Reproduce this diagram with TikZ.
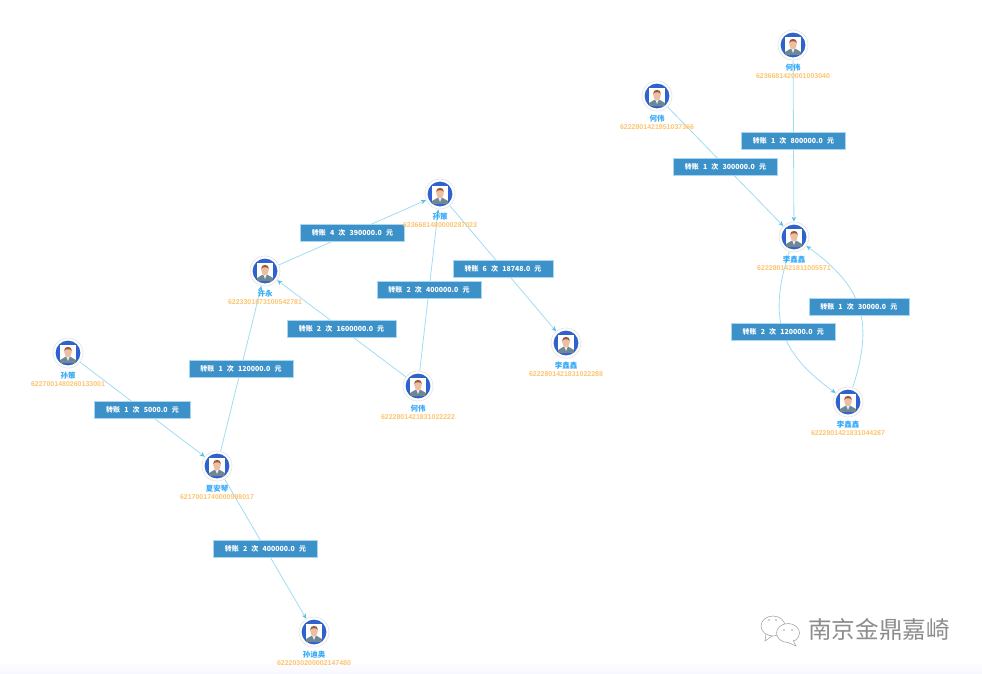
\documentclass[tikz,border=0pt]{standalone}
\usepackage{fontspec}
\usetikzlibrary{arrows.meta,backgrounds}
\newfontfamily\cjk[WordSpace=2.6]{Noto Sans CJK SC}
\setmainfont{Liberation Sans}
\definecolor{feeblue}{HTML}{3C91C9}
\definecolor{feeline}{HTML}{A9D6F0}
\definecolor{edgeblue}{HTML}{A0DDF3}
\definecolor{tipblue}{HTML}{55C0E8}
\definecolor{nameblue}{HTML}{35A9F7}
\definecolor{numorange}{HTML}{FCC46F}
\definecolor{ringblue}{HTML}{2F62CC}
\definecolor{suit}{HTML}{6F8794}
\definecolor{skin}{HTML}{EDBFA0}
\definecolor{hair}{HTML}{9A5A3C}
\tikzset{
    avatar/.style={circle, minimum size=30pt, inner sep=0pt, draw=black!10, line width=.7pt, fill=white,
        path picture={
            \begin{scope}[shift={(path picture bounding box.center)}]
                \fill[ringblue] (0,0) circle [radius=12.4];
                \fill[white] (-8,-8.5) rectangle (8,9);
                \fill[suit] (-8,10) -- (-8,7) -- (-2,3.5) -- (2,3.5) -- (8,7) -- (8,10) -- cycle;
                \fill[white!85!suit] (-1.8,3.5) -- (1.8,3.5) -- (0,8) -- cycle;
                \fill[skin] (-1.5,1) rectangle (1.5,4);
                \fill[skin] (0,-1) ellipse [x radius=3.8, y radius=5.2];
                \fill[hair] (-3.9,-2) .. controls (-4.4,-7.5) and (4.4,-7.5) .. (3.9,-2) .. controls (2.8,-4.4) and (-2.8,-4.4) .. (-3.9,-2);
            \end{scope}
        }},
    nm/.style={font=\cjk\bfseries\fontsize{7.5}{8}\selectfont, text=nameblue, inner sep=0pt, yshift=-3.5pt},
    num/.style={font=\bfseries\fontsize{7}{8}\selectfont, text=numorange, inner sep=0pt, yshift=-13.5pt},
    fee/.style={font=\cjk\bfseries\fontsize{7}{8}\selectfont, text=white, fill=feeblue, draw=feeline, line width=.5pt,
        inner xsep=11.5pt, inner ysep=0pt, minimum height=17pt},
    flow/.style={draw=edgeblue, line width=.8pt, -{Stealth[length=5pt,width=4.5pt,color=tipblue]}}
}
\begin{document}
\begin{tikzpicture}[x=1pt, y=-1pt]
    \useasboundingbox (0,0) rectangle (982,673);
    % left group
    \node[avatar, label={[nm]below:孙策}, label={[num]below:6227001480260133001}] (sunA) at (68,353) {};
    \node[avatar, label={[nm]below:夏安琴}, label={[num]below:6217001740000998017}] (xia) at (217,466) {};
    \node[avatar, label={[nm]below:许永}, label={[num]below:6223301873100542781}] (xu) at (265,271) {};
    \node[avatar, label={[nm]below:孙策}, label={[num]below:6236681480000287023}] (sunB) at (440,194) {};
    \node[avatar, label={[nm]below:何伟}, label={[num]below:6222801421831022222}] (heA) at (418,386) {};
    \node[avatar, label={[nm]below:李鑫鑫}, label={[num]below:6222801421831022288}] (liA) at (566,343) {};
    \node[avatar, label={[nm]below:孙迪奥}, label={[num]below:6222030200002147480}] (sunC) at (314,632) {};
    % right group
    \node[avatar, label={[nm]below:何伟}, label={[num]below:6236681420001003040}] (heB) at (793,45) {};
    \node[avatar, label={[nm]below:何伟}, label={[num]below:6222801421951037366}] (heC) at (657,96) {};
    \node[avatar, label={[nm]below:李鑫鑫}, label={[num]below:6222801421811005571}] (liB) at (794,237) {};
    \node[avatar, label={[nm]below:李鑫鑫}, label={[num]below:6222801421831044287}] (liC) at (848,402) {};
    \begin{scope}[on background layer]
        \shade[top color=white, bottom color=black!6!blue!3!white, draw=none] (0,661) rectangle (982,673);
        \draw[flow] (sunA) -- node[fee] {转账 1 次 5000.0 元} (xia);
        \draw[flow] (xia) -- node[fee] {转账 1 次 120000.0 元} (xu);
        \draw[flow] (xia) -- node[fee] {转账 2 次 400000.0 元} (sunC);
        \draw[flow] (xu) -- node[fee] {转账 4 次 390000.0 元} (sunB);
        \draw[flow] (heA) -- node[fee] {转账 2 次 1600000.0 元} (xu);
        \draw[flow] (heA) -- node[fee] {转账 2 次 400000.0 元} (sunB);
        \draw[flow] (sunB) -- node[fee] {转账 6 次 18748.0 元} (liA);
        \draw[flow] (heB) -- node[fee] {转账 1 次 800000.0 元} (liB);
        \draw[flow] (heC) -- node[fee] {转账 1 次 300000.0 元} (liB);
        \draw[flow] (liB) to[bend right=36, looseness=1.2] node[fee] {转账 2 次 120000.0 元} (liC);
        \draw[flow] (liC) to[bend right=36, looseness=1.2] node[fee] {转账 1 次 30000.0 元} (liB);
    \end{scope}
    % watermark
    \draw[black!35, line width=.6pt, fill=white] (773,626) ellipse [x radius=12, y radius=10];
    \draw[black!35, line width=.6pt] (766,634) -- (765,641) -- (772,636);
    \draw[black!35, line width=.6pt, fill=white] (788,633) ellipse [x radius=11.5, y radius=9.5];
    \draw[black!35, line width=.6pt, fill=white] (793,640) -- (796,646) -- (788,642.5);
    \fill[black!35] (769,620) circle [radius=.9] (776,620) circle [radius=.9] (784,630) circle [radius=.9] (792,630) circle [radius=.9];
    \node[font=\cjk\fontsize{23.6}{25}\selectfont, text=black!45, inner sep=0pt] (mark) at (879,630) {南京金鼎嘉崎};
\end{tikzpicture}
\end{document}
